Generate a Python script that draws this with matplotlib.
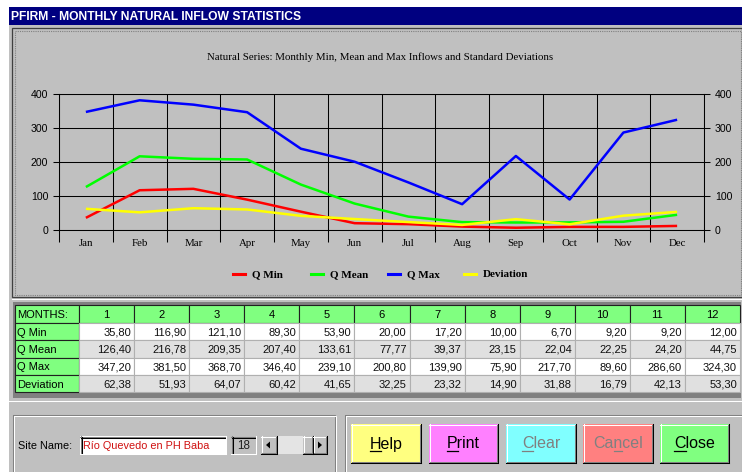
import numpy as np
import matplotlib
matplotlib.use("Agg")
import matplotlib.pyplot as plt
from matplotlib.patches import Rectangle, Polygon
from matplotlib.lines import Line2D

# ---------------- data ----------------
months = ['Jan', 'Feb', 'Mar', 'Apr', 'May', 'Jun', 'Jul', 'Aug', 'Sep', 'Oct', 'Nov', 'Dec']
month_numbers = ['1', '2', '3', '4', '5', '6', '7', '8', '9', '10', '11', '12']
q_min = [35.80, 116.90, 121.10, 89.30, 53.90, 20.00, 17.20, 10.00, 6.70, 9.20, 9.20, 12.00]
q_mean = [126.40, 216.78, 209.35, 207.40, 133.61, 77.77, 39.37, 23.15, 22.04, 22.25, 24.20, 44.75]
q_max = [347.20, 381.50, 368.70, 346.40, 239.10, 200.80, 139.90, 75.90, 217.70, 89.60, 286.60, 324.30]
deviation = [62.38, 51.93, 64.07, 60.42, 41.65, 32.25, 23.32, 14.90, 31.88, 16.79, 42.13, 53.30]
series_names = ['Q Min', 'Q Mean', 'Q Max', 'Deviation']
series_colors = ['#FF0000', '#00FF00', '#0000FF', '#FFFF00']
y_ticks = [0, 100, 200, 300, 400]
window_title = 'PFIRM - MONTHLY NATURAL INFLOW STATISTICS'
chart_title = 'Natural Series: Monthly Min, Mean and Max Inflows and Standard Deviations'
site_name = 'Río Quevedo en PH Baba'
site_index = '18'
buttons = [('Help', 0, '#FFFF80', 'black'), ('Print', 0, '#FF80FF', 'black'),
           ('Clear', 0, '#80FFFF', '#808080'), ('Cancel', 2, '#FF8080', '#808080'),
           ('Close', 0, '#80FF80', 'black')]

W, H = 742, 472
SANS = 'Liberation Sans'
SERIF = 'Liberation Serif'
GREY = '#C0C0C0'
DARK = '#808080'

fig = plt.figure(figsize=(W / 100, H / 100), dpi=100)
fig.patch.set_facecolor('white')
bg = fig.add_axes([0, 0, 1, 1])
bg.set_xlim(0, W)
bg.set_ylim(H, 0)
bg.axis('off')


def rect(x0, y0, x1, y1, fc='none', ec='none', lw=0, ls='-', z=1):
    bg.add_patch(Rectangle((x0, y0), x1 - x0, y1 - y0, facecolor=fc, edgecolor=ec,
                           linewidth=lw, linestyle=ls, zorder=z))


def hline(x0, x1, y, c, lw=0.75, z=2, ls='-'):
    bg.add_line(Line2D([x0, x1], [y, y], color=c, lw=lw, zorder=z, ls=ls))


def vline(x, y0, y1, c, lw=0.75, z=2, ls='-'):
    bg.add_line(Line2D([x, x], [y0, y1], color=c, lw=lw, zorder=z, ls=ls))


def raised(x0, y0, x1, y1, fc, z=3):
    rect(x0, y0, x1, y1, fc=fc, z=z)
    hline(x0, x1, y0 + 0.5, 'white', z=z + 1)
    vline(x0 + 0.5, y0, y1, 'white', z=z + 1)
    hline(x0, x1, y1 - 0.5, '#000000', z=z + 1)
    vline(x1 - 0.5, y0, y1, '#000000', z=z + 1)
    hline(x0 + 1, x1 - 1, y1 - 1.5, DARK, z=z + 1)
    vline(x1 - 1.5, y0 + 1, y1 - 1, DARK, z=z + 1)


def sunken(x0, y0, x1, y1, fc, z=3):
    rect(x0, y0, x1, y1, fc=fc, z=z)
    hline(x0, x1, y0 + 0.5, DARK, z=z + 1)
    vline(x0 + 0.5, y0, y1, DARK, z=z + 1)
    hline(x0 + 1, x1 - 1, y0 + 1.5, '#000000', z=z + 1)
    vline(x0 + 1.5, y0 + 1, y1 - 1, '#000000', z=z + 1)
    hline(x0, x1, y1 - 0.5, 'white', z=z + 1)
    vline(x1 - 0.5, y0, y1, 'white', z=z + 1)


# window background + title bar
rect(9, 7, W, H, fc=GREY, z=0)
rect(9, 7, W, 25, fc='#000080', z=1)
bg.text(11, 20.5, window_title, color='white', fontsize=8.7, fontweight='bold',
        family=SANS, va='baseline', ha='left', zorder=3)

# chart panel
rect(12, 28, W, 297, ec='#404040', lw=0.9, z=2)
rect(14.5, 30.5, W - 1.5, 295, ec=DARK, lw=0.8, ls=(0, (1, 1)), z=2)
hline(12, W, 298.5, 'white', z=2)
bg.text(380, 60, chart_title, fontsize=7.85, family=SERIF, ha='center', va='baseline', zorder=3)

# legend (drawn in pixel space)
leg_x = [233, 311, 388, 464]
for lx, name, col in zip(leg_x, series_names, series_colors):
    bg.add_line(Line2D([lx, lx + 12], [273.5, 273.5], color=col, lw=2.2, zorder=3))
    bg.text(lx + 19, 277, name, fontsize=8, family=SERIF, fontweight='bold',
            ha='left', va='baseline', zorder=3)

# ---------------- chart ----------------
ax = fig.add_axes([59 / W, 1 - 230 / H, 645 / W, 136 / H])
ax.set_facecolor('none')
x = np.arange(len(months)) + 0.5
for vals, col in zip([q_min, q_mean, q_max, deviation], series_colors):
    ax.plot(x, vals, color=col, lw=1.8, solid_joinstyle='round', solid_capstyle='butt', zorder=3)
ax.set_xlim(0, 12)
ax.set_ylim(0, 400)
ax.set_xticks(np.arange(13))
ax.set_xticklabels([])
ax.set_xticks(x, minor=True)
ax.set_xticklabels(months, minor=True, fontsize=7.8, family=SERIF)
ax.tick_params(axis='x', which='major', length=8.6, width=0.75, color='black', direction='out')
ax.tick_params(axis='x', which='minor', length=0, pad=6.5)
ax.set_yticks(y_ticks)
ax.set_yticklabels([str(v) for v in y_ticks], fontsize=7.6, family=SANS)
ax.tick_params(axis='y', which='major', length=4.3, width=0.75, color='black',
               direction='out', left=True, right=True, labelleft=True, labelright=True, pad=3.5)
ax.grid(True, which='major', color='black', lw=0.75)
for s in ax.spines.values():
    s.set_color('black')
    s.set_linewidth(0.75)

# ---------------- table ----------------
rect(13, 302, 741, 397.5, fc=DARK, z=1)
col_x0 = 15
col_w = (740 - 79) / 12
row_y = [305, 322.5, 340, 357.5, 375, 392]
rows = [('MONTHS:', month_numbers, None)]
rows += [(n, [f"{v:.2f}".replace('.', ',') for v in vals], fill)
         for n, vals, fill in zip(series_names, [q_min, q_mean, q_max, deviation],
                                  ['white', '#E0E0E0', 'white', '#E0E0E0'])]
TFS = 8
for r, (label, cells, fill) in enumerate(rows):
    y0, y1 = row_y[r], row_y[r + 1]
    base = y1 - 4.5
    rect(col_x0, y0, 79, y1, fc='#80FF80', ec='#202020', lw=0.8, z=3)
    bg.text(col_x0 + 2, base, label, fontsize=TFS, family=SANS,
            ha='left', va='baseline', zorder=4)
    for c, txt in enumerate(cells):
        cx0 = 79 + c * col_w
        cx1 = cx0 + col_w
        if r == 0:
            rect(cx0, y0, cx1, y1, fc='#80FF80', ec='#202020', lw=0.8, z=3)
            bg.text((cx0 + cx1) / 2, base, txt, fontsize=TFS, family=SANS,
                    ha='center', va='baseline', zorder=4)
        else:
            rect(cx0, y0, cx1, y1, fc=fill, ec='#B0B0B0', lw=0.8, z=3)
            bg.text(cx1 - 3, base, txt, fontsize=TFS, family=SANS,
                    ha='right', va='baseline', zorder=4, color='#101010')
hline(9, W, 400.5, 'white', z=2)

# ---------------- bottom controls ----------------
for gx0, gx1 in [(13, 335), (345, W)]:
    rect(gx0, 415, gx1, H + 2, ec=DARK, lw=0.75, z=2)
    rect(gx0 + 1, 416, gx1 + 1, H + 3, ec='white', lw=0.75, z=2)

bg.text(18, 449, 'Site Name:', fontsize=7.8, family=SANS, ha='left', va='baseline', zorder=4)
sunken(80, 436, 226, 454, 'white')
bg.text(83, 449, site_name, fontsize=7.8, family=SANS, color='#D01010', ha='left',
        va='baseline', zorder=6)
sunken(231, 436, 256, 454, GREY)
bg.text(243.5, 449, site_index, fontsize=8.4, family=SANS, color='#202020', ha='center',
        va='baseline', zorder=6)
# scrollbar
rect(261, 436, 327, 454, fc='#E4E4E4', z=3)
raised(261, 436, 277, 454, GREY, z=4)
raised(303, 436, 313, 454, GREY, z=4)
raised(313, 436, 327, 454, GREY, z=4)
bg.add_patch(Polygon([[266, 445], [270, 441.5], [270, 448.5]], closed=True, fc='black', zorder=7))
bg.add_patch(Polygon([[322, 445], [318, 441.5], [318, 448.5]], closed=True, fc='black', zorder=7))

# buttons
btn_x = [(351, 421), (429, 498), (506, 576), (583, 653), (660, 729)]
fig.canvas.draw()
renderer = fig.canvas.get_renderer()
BFS = 11.5
for (bx0, bx1), (label, ui, fc, tc) in zip(btn_x, buttons):
    raised(bx0, 424, bx1, 463, fc, z=3)
    cx = (bx0 + bx1) / 2
    t = bg.text(cx, 448.5, label, fontsize=BFS, family=SANS, color=tc, ha='center',
                va='baseline', zorder=6, fontweight='medium')
    full = t.get_window_extent(renderer)
    tmp = bg.text(0, 0, label[:ui], fontsize=BFS, family=SANS)
    w_pre = tmp.get_window_extent(renderer).width if ui > 0 else 0
    tmp.set_text(label[:ui + 1])
    w_inc = tmp.get_window_extent(renderer).width
    tmp.remove()
    ux0 = full.x0 + w_pre
    ux1 = full.x0 + w_inc
    hline(ux0, ux1, 450.5, tc, lw=0.9, z=6)

fig.savefig('out.png', dpi=100, facecolor=fig.get_facecolor())
